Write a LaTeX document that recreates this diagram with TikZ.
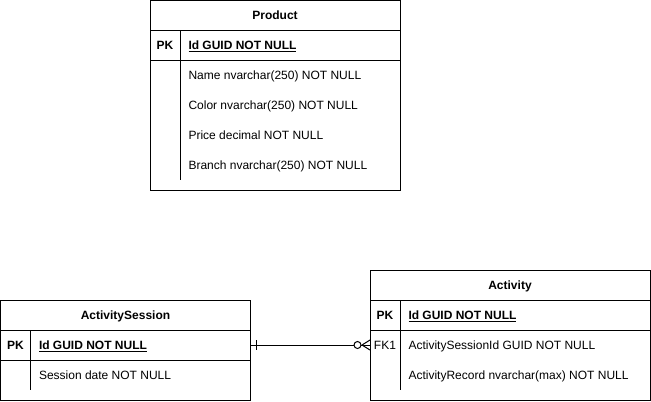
\documentclass[tikz,border=0pt]{standalone}
\usepackage{fontspec}
\setmainfont{Liberation Sans}
\usetikzlibrary{positioning,calc}

\begin{document}
\begin{tikzpicture}[x=0.75pt,y=-0.75pt,line width=0.75pt,
  box/.style={draw,rectangle,inner sep=0pt,outer sep=0pt,minimum height=22.5pt},
  title/.style={font=\fontsize{9}{11}\selectfont\bfseries},
  key/.style={anchor=base,inner sep=0pt,font=\fontsize{9}{11}\selectfont},
  field/.style={anchor=base west,inner sep=0pt,font=\fontsize{9}{11}\selectfont}]

  \useasboundingbox (0,0) rectangle (651,401);

  % Product
  \node[box,minimum width=187.5pt] (prod) at (275,15) {};
  \node[key,title] (prodtitle) at (275,19.5) {Product};
  \node[box,minimum width=187.5pt,below=0pt of prod] (prodpk) {};
  \node[box,minimum width=187.5pt,minimum height=97.5pt,below=0pt of prodpk] (prodbody) {};
  \draw ([xshift=22.5pt]prodpk.north west) -- ([xshift=22.5pt,yshift=7.5pt]prodbody.south west);
  \node[key,font=\fontsize{9}{11}\selectfont\bfseries] (prodkey) at (165,49.5) {PK};
  \node[field,font=\fontsize{9}{11}\selectfont\bfseries] (prodid) at (188,49.5) {\underline{Id GUID NOT NULL}};
  \node[field] (prodname) at (188,79.5) {Name nvarchar(250) NOT NULL};
  \node[field] (prodcolor) at (188,109.5) {Color nvarchar(250) NOT NULL};
  \node[field] (prodprice) at (188,139.5) {Price decimal NOT NULL};
  \node[field] (prodbranch) at (188,169.5) {Branch nvarchar(250) NOT NULL};

  % ActivitySession
  \node[box,minimum width=187.5pt] (ses) at (125.5,315) {};
  \node[key,title] (sestitle) at (125.5,319.5) {ActivitySession};
  \node[box,minimum width=187.5pt,below=0pt of ses] (sespk) {};
  \node[box,minimum width=187.5pt,minimum height=30pt,below=0pt of sespk] (sesbody) {};
  \draw ([xshift=22.5pt]sespk.north west) -- ([xshift=22.5pt,yshift=7.5pt]sesbody.south west);
  \node[key,font=\fontsize{9}{11}\selectfont\bfseries] (seskey) at (15.5,349.5) {PK};
  \node[field,font=\fontsize{9}{11}\selectfont\bfseries] (sesid) at (38.5,349.5) {\underline{Id GUID NOT NULL}};
  \node[field] (sesdate) at (38.5,379.5) {Session date NOT NULL};

  % Activity
  \node[box,minimum width=210pt] (act) at (510,285) {};
  \node[key,title] (acttitle) at (510,289.5) {Activity};
  \node[box,minimum width=210pt,below=0pt of act] (actpk) {};
  \node[box,minimum width=210pt,minimum height=52.5pt,below=0pt of actpk] (actbody) {};
  \draw ([xshift=22.5pt]actpk.north west) -- ([xshift=22.5pt,yshift=7.5pt]actbody.south west);
  \node[key,font=\fontsize{9}{11}\selectfont\bfseries] (actkey) at (385,319.5) {PK};
  \node[field,font=\fontsize{9}{11}\selectfont\bfseries] (actid) at (408,319.5) {\underline{Id GUID NOT NULL}};
  \node[key] (actfk) at (385,349.5) {FK1};
  \node[field] (actsesid) at (408,349.5) {ActivitySessionId GUID NOT NULL};
  \node[field] (actrecord) at (408,379.5) {ActivityRecord nvarchar(max) NOT NULL};

  % relation: one ActivitySession to zero or many Activity
  \coordinate (fkend) at (actbody.west |- sespk.east);
  \draw (sespk.east) -- (fkend);
  \draw ($(sespk.east)+(6,-5)$) -- ++(0,10);
  \draw ($(fkend)+(-8,0)$) -- ++(8,-5) ($(fkend)+(-8,0)$) -- ++(8,5);
  \draw[fill=white] ($(fkend)+(-12.5,0)$) circle[radius=3.5];
\end{tikzpicture}
\end{document}
